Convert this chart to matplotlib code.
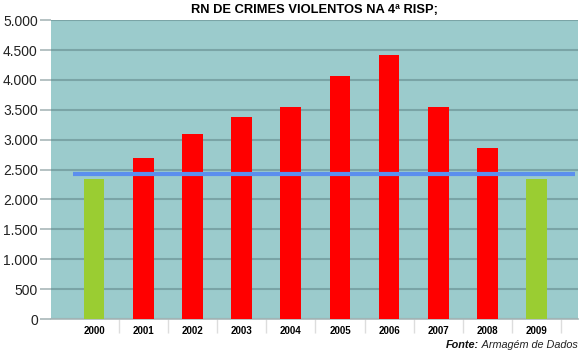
import matplotlib
matplotlib.use("Agg")
import matplotlib.pyplot as plt
import numpy as np
from matplotlib.ticker import FuncFormatter, MultipleLocator

years = ["2000", "2001", "2002", "2003", "2004", "2005", "2006", "2007", "2008", "2009"]
values = [2340, 2690, 3100, 3375, 3550, 4065, 4410, 3550, 2860, 2340]
bar_colors = ["#9ACD32", "#FF0000", "#FF0000", "#FF0000", "#FF0000",
              "#FF0000", "#FF0000", "#FF0000", "#FF0000", "#9ACD32"]
reference_level = 2420
title = "RN DE CRIMES VIOLENTOS NA 4ª RISP;"
source_label = "Fonte:"
source_text = " Armagém de Dados"

plt.rcParams['font.family'] = ['Liberation Sans', 'DejaVu Sans']

fig = plt.figure(figsize=(5.8, 3.53), dpi=100)
ax = fig.add_axes([0.088, 0.0963, 0.9086, 0.8467])
ax.set_facecolor("#9BCBCC")

x = np.arange(len(years))
ax.bar(x, values, width=0.42, color=bar_colors, zorder=3)
ax.hlines(reference_level, x[0] - 0.43, x[-1] + 0.78, color="#5B8FEE", linewidth=3, zorder=4)

ax.set_xlim(-0.874, 9.84)
ax.set_ylim(0, 5000)
ax.yaxis.set_major_locator(MultipleLocator(500))
ax.yaxis.set_major_formatter(FuncFormatter(lambda v, p: f"{int(v):,}".replace(",", ".")))
ax.grid(axis="y", color="#7AA4A6", linewidth=1.5, zorder=1)
ax.tick_params(axis="y", length=8, width=1.2, color="#A9B8B9", pad=1.5, labelsize=10, labelcolor="#222222")

ax.set_xticks(x)
ax.set_xticklabels(years, fontsize=7, fontweight="bold")
ax.set_xticks(x + 0.5, minor=True)
ax.tick_params(axis="x", which="major", length=0, pad=5)
ax.tick_params(axis="x", which="minor", length=10, width=1, color="#DDDDDD")

for s in ["top", "right", "left"]:
    ax.spines[s].set_visible(False)
ax.spines["bottom"].set_color("#A9B8B9")
ax.spines["bottom"].set_linewidth(1.2)

ax.set_title(title, fontsize=9.3, fontweight="bold", pad=5)

ypos = 0.008
t1 = fig.text(0.997, ypos, source_text, ha="right", va="bottom", fontsize=7.8,
              style="italic", color="#222222")
fig.canvas.draw()
bb = t1.get_window_extent()
fig.text(bb.x0 / fig.bbox.width, ypos, source_label, ha="right", va="bottom",
         fontsize=7.8, fontweight="bold", style="italic", color="#111111")

fig.savefig("out.png", dpi=100)
